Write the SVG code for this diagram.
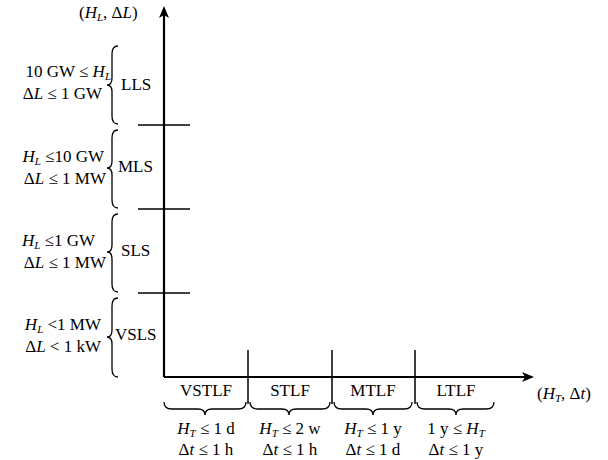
<svg xmlns="http://www.w3.org/2000/svg" width="608" height="460" viewBox="0 0 608 460">
<style>
text{font-family:"Liberation Serif","DejaVu Serif",serif;font-size:17px;fill:#000}
.i{font-style:italic}
.s{font-size:11px;font-style:italic}
.ax{stroke:#000;stroke-width:2.2;fill:none}
.tk{stroke:#000;stroke-width:1.5;fill:none}
.br{stroke:#000;stroke-width:1.3;fill:none}
.r{text-anchor:end}
.m{text-anchor:middle}
</style>
<rect width="608" height="460" fill="#fff"/>
<g id="connectors">
<path class="ax" d="M164,377 V12 M164,377 H528"/>
<path d="M164,6 L159,18 L164,15 L169,18 Z"/>
<path d="M534,377 L522,372 L525,377 L522,382 Z"/>
<path class="tk" d="M138,125 H190 M138,209 H190 M138,293 H190 M248,350 V404 M332,350 V404 M415,350 V404"/>
</g>
<g id="braces">
<path class="br" d="M118,46 Q112,46 112,54 V78 Q112,85 107,85 Q112,85 112,92 V116 Q112,124 118,124"/>
<path class="br" d="M118,130 Q112,130 112,138 V161 Q112,168 107,168 Q112,168 112,175 V200 Q112,208 118,208"/>
<path class="br" d="M118,214 Q112,214 112,222 V245 Q112,252 107,252 Q112,252 112,259 V284 Q112,292 118,292"/>
<path class="br" d="M118,298 Q112,298 112,306 V330 Q112,337 107,337 Q112,337 112,344 V369 Q112,377 118,377"/>
<path class="br" d="M164,402 Q164,409 172,409 H198 Q205,409 205,415 Q205,409 212,409 H238 Q246,409 246,402"/>
<path class="br" d="M250,402 Q250,409 258,409 H282 Q289,409 289,415 Q289,409 296,409 H322 Q330,409 330,402"/>
<path class="br" d="M334,402 Q334,409 342,409 H366 Q373,409 373,415 Q373,409 380,409 H404 Q412,409 412,402"/>
<path class="br" d="M417,402 Q417,409 425,409 H449 Q456,409 456,415 Q456,409 463,409 H486 Q494,409 494,402"/>
</g>
<g id="axis-labels">
<text x="79" y="18">(<tspan class="i">H</tspan><tspan class="s" dy="3">L</tspan><tspan dy="-3">, Δ</tspan><tspan class="i">L</tspan>)</text>
<text x="537" y="399">(<tspan class="i">H</tspan><tspan class="s" dy="3">T</tspan><tspan dy="-3">, Δ</tspan><tspan class="i">t</tspan>)</text>
</g>
<g id="LLS"><text x="121" y="90">LLS</text>
<text x="111" y="77" class="r">10 GW ≤ <tspan class="i">H</tspan><tspan class="s" dy="3">L</tspan></text>
<text x="102" y="99" class="r">Δ<tspan class="i">L</tspan> ≤ 1 GW</text></g>
<g id="MLS"><text x="118" y="172">MLS</text>
<text x="104" y="162" class="r"><tspan class="i">H</tspan><tspan class="s" dy="3">L</tspan><tspan dy="-3"> ≤10 GW</tspan></text>
<text x="106" y="184" class="r">Δ<tspan class="i">L</tspan> ≤ 1 MW</text></g>
<g id="SLS"><text x="121" y="256">SLS</text>
<text x="95" y="246" class="r"><tspan class="i">H</tspan><tspan class="s" dy="3">L</tspan><tspan dy="-3"> ≤1 GW</tspan></text>
<text x="106" y="268" class="r">Δ<tspan class="i">L</tspan> ≤ 1 MW</text></g>
<g id="VSLS"><text x="115" y="340">VSLS</text>
<text x="101" y="330" class="r"><tspan class="i">H</tspan><tspan class="s" dy="3">L</tspan><tspan dy="-3"> &lt;1 MW</tspan></text>
<text x="101" y="352" class="r">Δ<tspan class="i">L</tspan> &lt; 1 kW</text></g>
<g id="VSTLF"><text x="206" y="396" class="m">VSTLF</text>
<text x="206" y="434" class="m"><tspan class="i">H</tspan><tspan class="s" dy="3">T</tspan><tspan dy="-3"> ≤ 1 d</tspan></text>
<text x="206" y="455" class="m">Δ<tspan class="i">t</tspan> ≤ 1 h</text></g>
<g id="STLF"><text x="290" y="396" class="m">STLF</text>
<text x="290" y="434" class="m"><tspan class="i">H</tspan><tspan class="s" dy="3">T</tspan><tspan dy="-3"> ≤ 2 w</tspan></text>
<text x="290" y="455" class="m">Δ<tspan class="i">t</tspan> ≤ 1 h</text></g>
<g id="MTLF"><text x="373" y="396" class="m">MTLF</text>
<text x="373" y="434" class="m"><tspan class="i">H</tspan><tspan class="s" dy="3">T</tspan><tspan dy="-3"> ≤ 1 y</tspan></text>
<text x="373" y="455" class="m">Δ<tspan class="i">t</tspan> ≤ 1 d</text></g>
<g id="LTLF"><text x="456" y="396" class="m">LTLF</text>
<text x="456" y="434" class="m">1 y ≤ <tspan class="i">H</tspan><tspan class="s" dy="3">T</tspan></text>
<text x="456" y="455" class="m">Δ<tspan class="i">t</tspan> ≤ 1 y</text></g>
</svg>
